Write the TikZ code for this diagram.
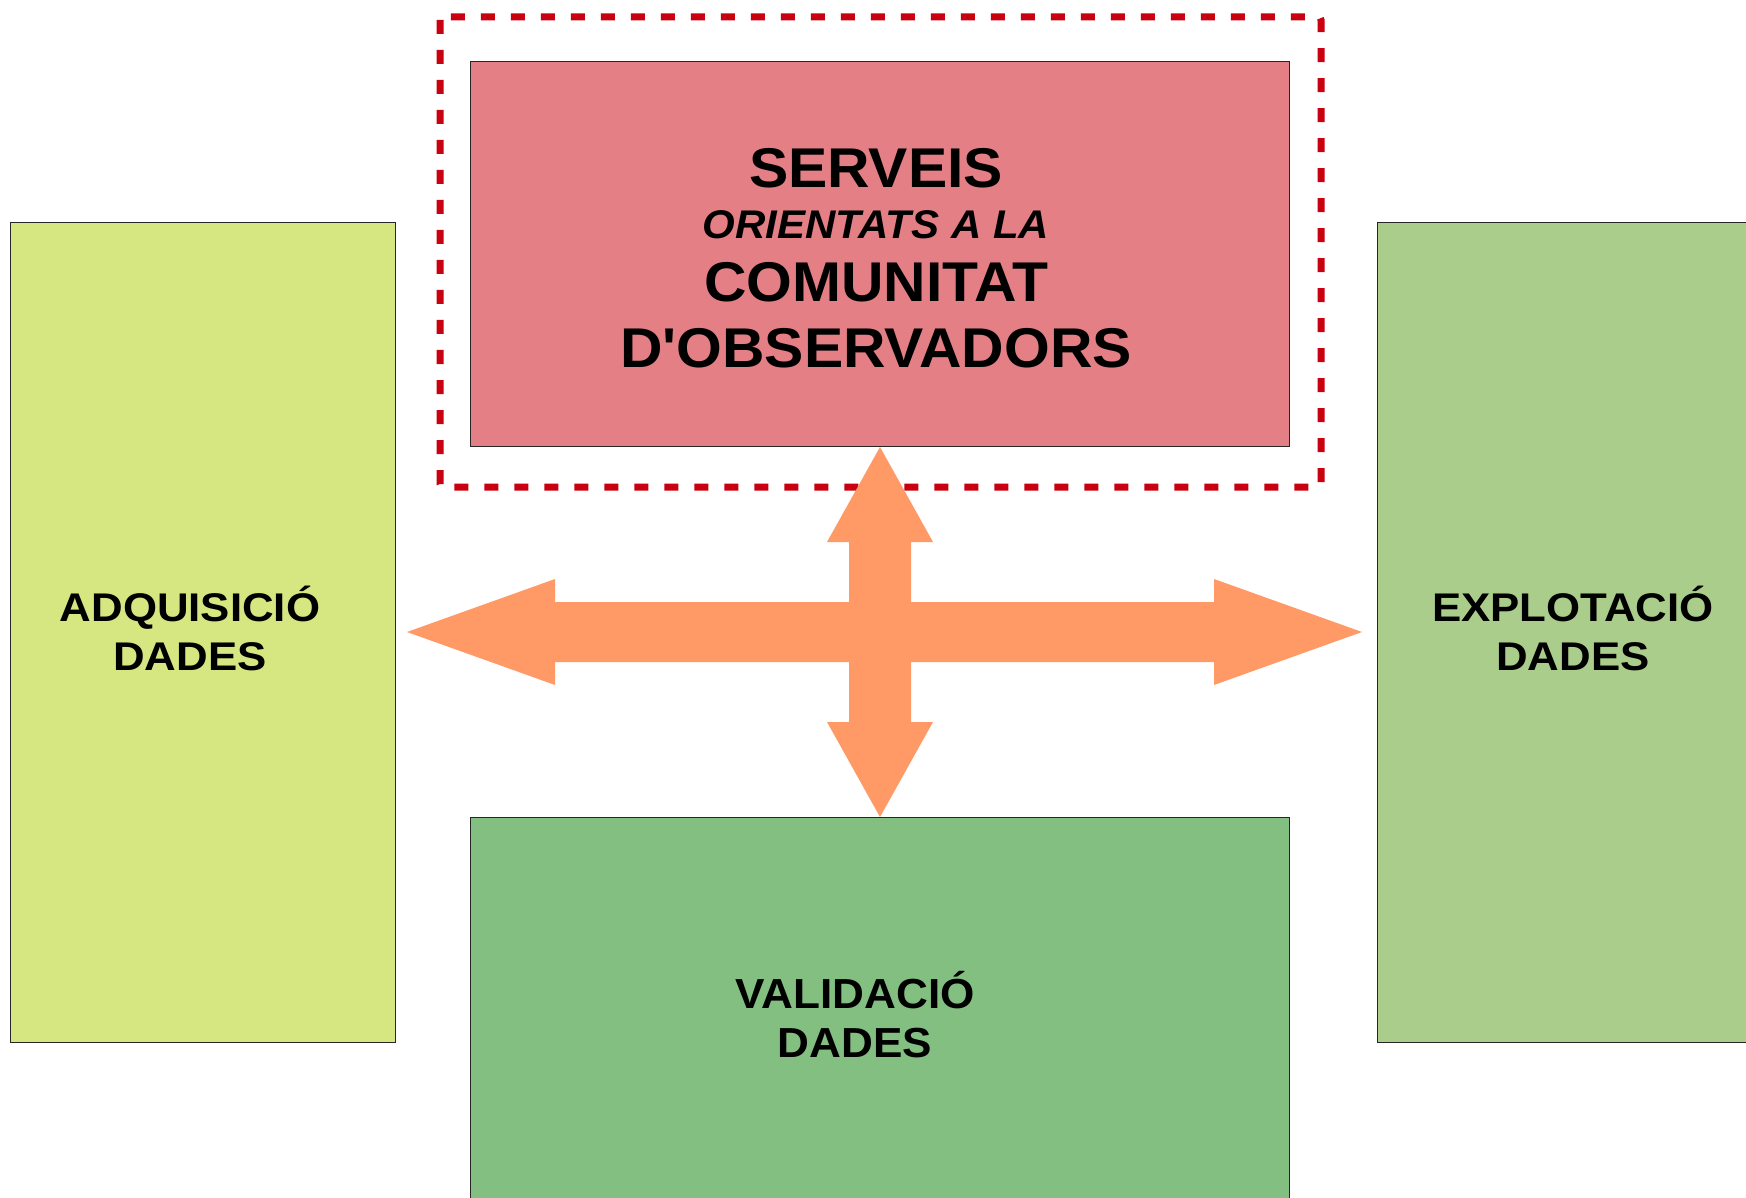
\documentclass[tikz,border=0pt]{standalone}
\usepackage{fontspec}
\newfontfamily\lsans[FakeStretch=1.05]{Liberation Sans}
\newfontfamily\lwide[FakeStretch=1.095]{Liberation Sans}
\definecolor{redbox}{HTML}{E37F85}
\definecolor{yellowbox}{HTML}{D6E680}
\definecolor{lightgreen}{HTML}{ABCD8B}
\definecolor{midgreen}{HTML}{82BF80}
\definecolor{arrowc}{HTML}{FF9A66}
\definecolor{dashred}{HTML}{C9000F}
\begin{document}
\begin{tikzpicture}[x=1pt,y=-1pt,
  box/.style={draw=black!85, line width=1.1pt, inner sep=0pt, anchor=north west},
  bigtxt/.style={anchor=base, inner sep=0pt, font=\lsans\bfseries\fontsize{56}{60}\selectfont},
  ittxt/.style={anchor=base, inner sep=0pt, font=\lsans\bfseries\itshape\fontsize{40}{44}\selectfont},
  sidetxt/.style={anchor=base, inner sep=0pt, font=\lwide\bfseries\fontsize{40}{44}\selectfont},
  bottxt/.style={anchor=base, inner sep=0pt, font=\lsans\bfseries\fontsize{42}{46}\selectfont}]
\useasboundingbox (0,0) rectangle (1746,1198);
\clip (0,0) rectangle (1746,1198);
\fill[white] (0,0) rectangle (1746,1198);
% boxes
\node[box, fill=redbox, minimum width=819pt, minimum height=385pt] (serveis) at (470,61) {};
\node[box, fill=yellowbox, minimum width=385pt, minimum height=820pt] (adq) at (10,222) {};
\node[box, fill=lightgreen, minimum width=420pt, minimum height=820pt] (expl) at (1377,222) {};
\node[box, fill=midgreen, minimum width=819pt, minimum height=440pt] (valid) at (470,817) {};
% dashed frame
\draw[dashred, line width=7pt, dash pattern=on 14pt off 16pt, rounded corners=3pt] (440,17) rectangle (1321,487);
% cross arrow
\fill[arrowc] (407,632) -- (555,579) -- (555,602) -- (849,602) -- (849,542) -- (827,542)
  -- (880,447) -- (933,542) -- (911,542) -- (911,602) -- (1214,602) -- (1214,579)
  -- (1362,632) -- (1214,685) -- (1214,662) -- (911,662) -- (911,722) -- (933,722)
  -- (880,817) -- (827,722) -- (849,722) -- (849,662) -- (555,662) -- (555,685) -- cycle;
% texts
\node[bigtxt] (t1) at (876,188) {SERVEIS};
\node[ittxt] (t2) at (876,239) {ORIENTATS A LA};
\node[bigtxt] (t3) at (876,302) {COMUNITAT};
\node[bigtxt] (t4) at (876,367) {D'OBSERVADORS};
\node[sidetxt] (a1) at (190,621) {ADQUISICIÓ};
\node[sidetxt] (a2) at (190,670) {DADES};
\node[sidetxt] (e1) at (1573,621) {EXPLOTACIÓ};
\node[sidetxt] (e2) at (1573,670) {DADES};
\node[bottxt] (v1) at (855,1008) {VALIDACIÓ};
\node[bottxt] (v2) at (855,1057) {DADES};
\end{tikzpicture}
\end{document}
